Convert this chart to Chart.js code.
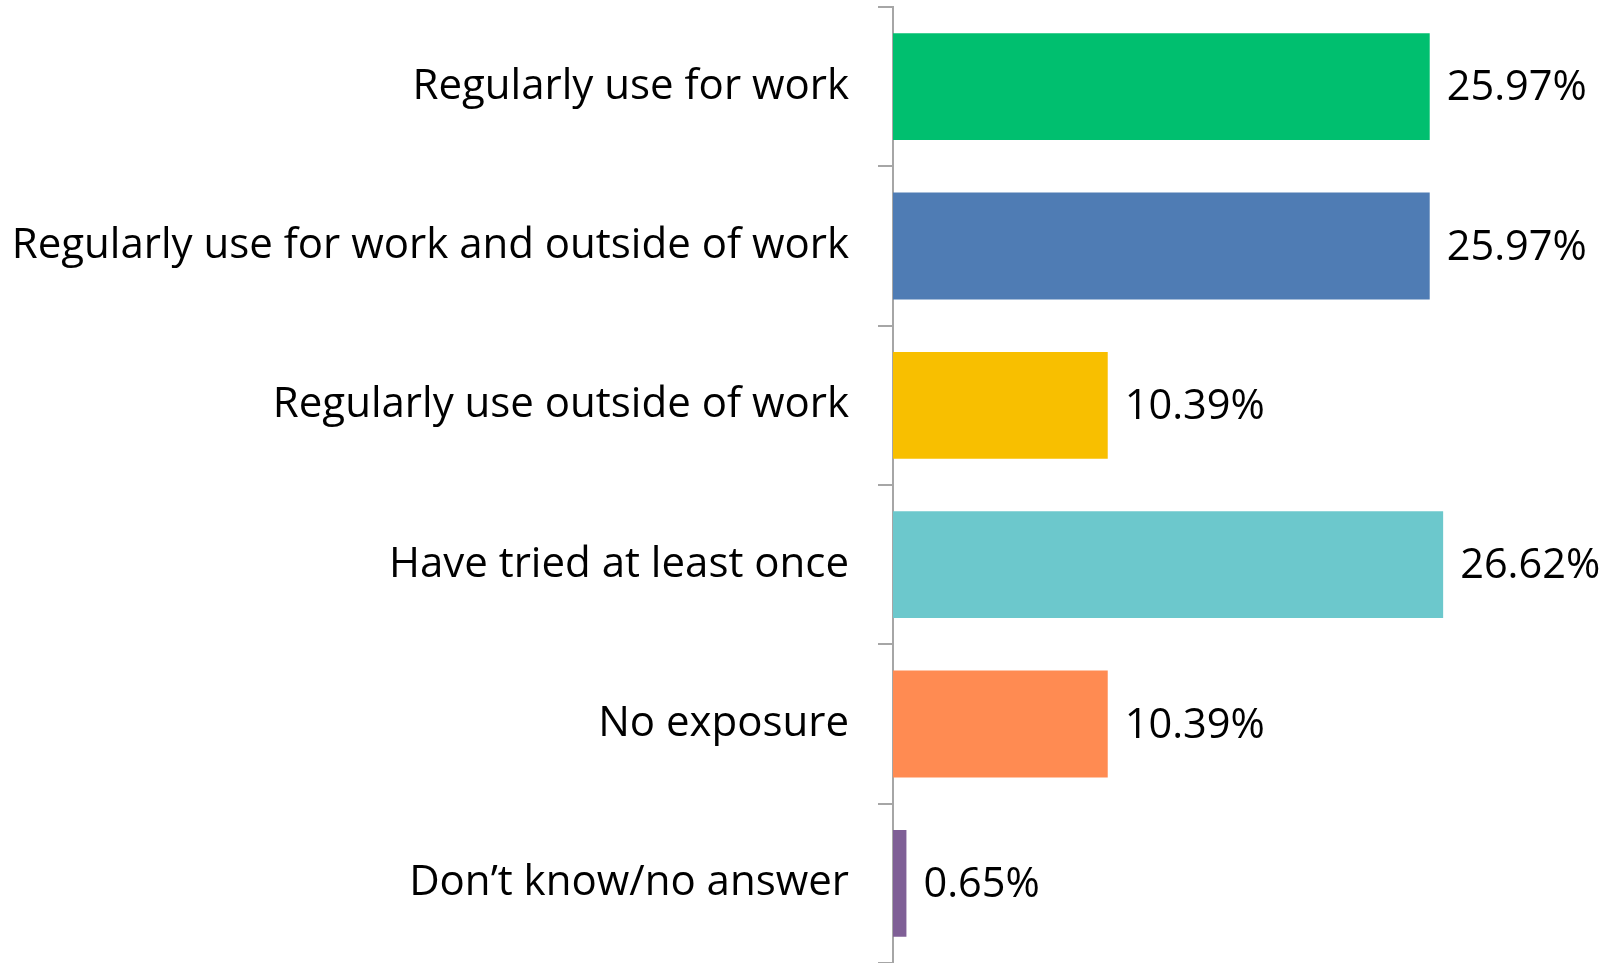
<!DOCTYPE html>
<html>
<head>
<meta charset="utf-8">
<script src="https://cdn.jsdelivr.net/npm/chart.js@4.4.0/dist/chart.umd.min.js"></script>
<style>
  html, body { margin: 0; padding: 0; background: #fff; }
  .wrap { width: 1608px; height: 963px; position: relative; }
</style>
</head>
<body>
<div class="wrap"><canvas id="barChart"></canvas></div>
<script>
const categories = [
  'Regularly use for work',
  'Regularly use for work and outside of work',
  'Regularly use outside of work',
  'Have tried at least once',
  'No exposure',
  'Don\u2019t know/no answer'
];
const shares = [25.97, 25.97, 10.39, 26.62, 10.39, 0.65];
const barColors = ['#00bf6f', '#4f7cb4', '#f8bf00', '#6cc8cc', '#ff8b52', '#7f5f96'];

const FONT = '"Open Sans", sans-serif';

// value labels to the right of each bar
const valueLabels = {
  id: 'valueLabels',
  afterDatasetsDraw(chart) {
    const ctx = chart.ctx;
    const meta = chart.getDatasetMeta(0);
    ctx.save();
    ctx.font = '41.5px ' + FONT;
    ctx.fillStyle = '#000';
    ctx.textAlign = 'left';
    ctx.textBaseline = 'middle';
    meta.data.forEach((bar, i) => {
      ctx.fillText(shares[i].toFixed(2) + '%', bar.x + 17, bar.y + 2);
    });
    ctx.restore();
  }
};

const ctx = document.getElementById('barChart');
new Chart(ctx, {
  type: 'bar',
  data: {
    labels: categories,
    datasets: [{
      data: shares,
      backgroundColor: barColors,
      borderWidth: 0,
      barPercentage: 0.67,
      categoryPercentage: 1
    }]
  },
  options: {
    indexAxis: 'y',
    responsive: true,
    maintainAspectRatio: false,
    animation: false,
    layout: { padding: { top: 7, right: 95, bottom: 0, left: 0 } },
    plugins: {
      legend: { display: false },
      tooltip: { enabled: false }
    },
    scales: {
      x: {
        display: false,
        min: 0,
        max: 30
      },
      y: {
        afterFit(scale) {
          scale.width = 893;
          // no extra room above/below for the label text
          scale.paddingTop = 0;
          scale.paddingBottom = 0;
        },
        border: { display: true, color: '#a6a6a6', width: 2 },
        grid: {
          drawOnChartArea: false,
          drawTicks: true,
          tickLength: 15,
          color: '#a6a6a6',
          lineWidth: 2
        },
        ticks: {
          padding: 29,
          color: '#000',
          font: { family: FONT, size: 42 }
        }
      }
    }
  },
  plugins: [valueLabels]
});
</script>
</body>
</html>
